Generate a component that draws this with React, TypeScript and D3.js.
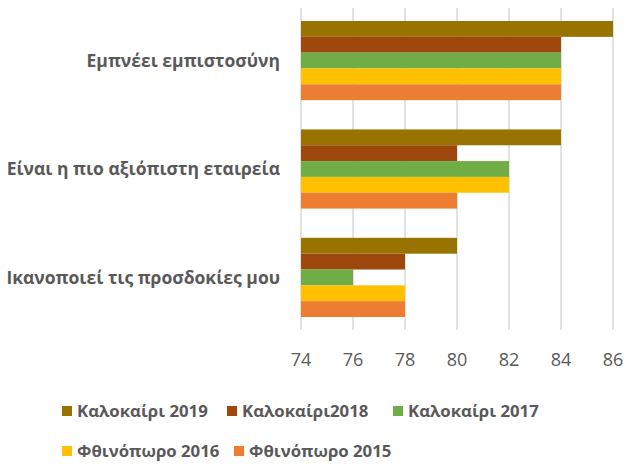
import React from 'react';
import * as d3 from 'd3';

const width = 626, height = 465;
const margin = { top: 8, left: 301, right: 13, bottom: 135 };

// categories top to bottom
const categories = [
    'Εμπνέει εμπιστοσύνη',
    'Είναι η πιο αξιόπιστη εταιρεία',
    'Ικανοποιεί τις προσδοκίες μου'
];

// series names, in the order the bars are stacked inside a group
const seriesNames = ['Καλοκαίρι 2019', 'Καλοκαίρι2018', 'Καλοκαίρι 2017', 'Φθινόπωρο 2016', 'Φθινόπωρο 2015'];
const seriesColors = ['#997300', '#9E480E', '#70AD47', '#FFC000', '#ED7D31'];

// values per series, one for each category
const summer2019 = [86, 84, 80];
const summer2018 = [84, 80, 78];
const summer2017 = [84, 82, 76];
const autumn2016 = [84, 82, 78];
const autumn2015 = [84, 80, 78];
const seriesValues = [summer2019, summer2018, summer2017, autumn2016, autumn2015];

const xTicks = [74, 76, 78, 80, 82, 84, 86];

// legend layout: row, left edge of marker
const legendPos = [
    { row: 0, x: 62 }, { row: 0, x: 227 }, { row: 0, x: 393 },
    { row: 1, x: 62 }, { row: 1, x: 234 }
];
const legendRows = [411, 451];

const font = '"Open Sans", "DejaVu Sans", sans-serif';
const textColor = '#595959';

export default function App() {
    const x = d3.scaleLinear()
        .domain([74, 86])
        .range([margin.left, width - margin.right]);

    const y = d3.scaleBand()
        .domain(categories)
        .range([margin.top, height - margin.bottom])
        .paddingInner(0.27)
        .paddingOuter(0.12);

    const ySeries = d3.scaleBand()
        .domain(seriesNames)
        .range([0, y.bandwidth()]);

    return (
        <svg width={width} height={height} viewBox={`0 0 ${width} ${height}`}
            style={{ position: 'absolute', left: 0, top: 0, background: '#fff' }}>
            {/* vertical grid lines */}
            {xTicks.map(t => (
                <line key={t} x1={x(t)} x2={x(t)} y1={margin.top} y2={height - margin.bottom}
                    stroke="#d9d9d9" strokeWidth={1.5} />
            ))}
            {/* bars */}
            {categories.map((c, ci) => (
                <g key={c} transform={`translate(0, ${y(c)})`}>
                    {seriesNames.map((s, si) => (
                        <rect key={s} x={x(74)} y={ySeries(s)}
                            width={x(seriesValues[si][ci]) - x(74)} height={ySeries.bandwidth()}
                            fill={seriesColors[si]} />
                    ))}
                </g>
            ))}
            {/* category labels */}
            {categories.map(c => (
                <text key={c} x={280} y={y(c)! + y.bandwidth() / 2} dy="0.35em" textAnchor="end"
                    fontFamily={font} fontWeight="bold" fontSize={17.5} fill={textColor}>{c}</text>
            ))}
            {/* x tick labels */}
            {xTicks.map(t => (
                <text key={t} x={x(t)} y={360} dy="0.35em" textAnchor="middle"
                    fontFamily={font} fontSize={18} fill={textColor}>{t}</text>
            ))}
            {/* legend */}
            {seriesNames.map((s, i) => (
                <g key={s} transform={`translate(${legendPos[i].x}, ${legendRows[legendPos[i].row]})`}>
                    <rect x={0} y={-5} width={10} height={10} fill={seriesColors[i]} />
                    <text x={15} y={0} dy="0.35em" fontFamily={font} fontWeight="bold"
                        fontSize={16.8} fill={textColor}>{s}</text>
                </g>
            ))}
        </svg>
    );
}
